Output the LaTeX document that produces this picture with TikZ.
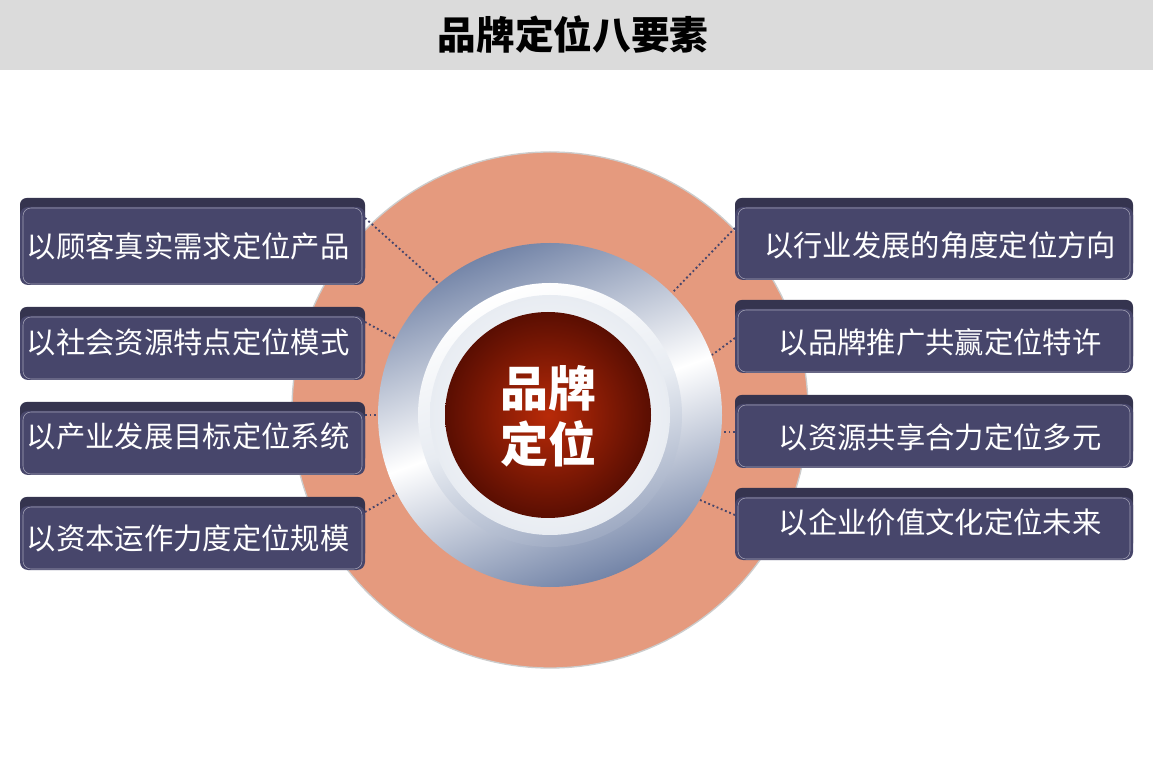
\documentclass[tikz,border=0pt]{standalone}
\usepackage{fontspec}
\newfontfamily\cjk{Noto Sans CJK SC}
\usetikzlibrary{shadings}
\definecolor{boxc}{HTML}{47466B}
\definecolor{boxtop}{HTML}{35344F}
\definecolor{orng}{HTML}{E59A7E}
\definecolor{steel}{HTML}{7485A8}
\definecolor{silv}{HTML}{E8ECF2}
\definecolor{redc}{HTML}{B82A08}
\definecolor{redd}{HTML}{5A0E02}
\tikzset{
 lbl/.style={font=\cjk\fontsize{22}{26}\selectfont, text=white, anchor=center},
 dots/.style={dotted, line width=1.4pt, color=boxc},
}
\newcommand{\pbox}[5]{% name, x1,y1,x2,y2
 \fill[boxtop, rounded corners=5pt] (#2,#3) rectangle (#4,#5-10);
 \fill[boxc, rounded corners=6pt] (#2,#3+9) rectangle (#4,#5);
 \draw[white!50!boxc, rounded corners=6pt, line width=0.4pt] (#2+3,#3+10) rectangle (#4-3,#5-1);
 \coordinate (#1) at ({(#2+#4)/2},{(#3+#5)/2+4});
}
\begin{document}
\begin{tikzpicture}[x=0.75pt,y=-0.75pt]
\useasboundingbox (0,0) rectangle (1153,762);
\fill[white] (0,0) rectangle (1153,762);
\fill[gray!28] (0,0) rectangle (1153,70);
\node[font=\cjk\bfseries\fontsize{29}{33}\selectfont] (title) at (573,35) {品牌定位八要素};
\fill[orng, draw=gray!40, line width=1pt] (550,410) circle (258);
% connectors
\coordinate (l1) at (440,285); \coordinate (l2) at (398,340);
\coordinate (l3) at (380,415); \coordinate (l4) at (400,492);
\coordinate (r1) at (672,293); \coordinate (r2) at (712,355);
\coordinate (r3) at (722,432); \coordinate (r4) at (700,500);
\coordinate (L1) at (365,218); \coordinate (L2) at (365,322);
\coordinate (L3) at (365,415); \coordinate (L4) at (365,512);
\coordinate (R1) at (735,228); \coordinate (R2) at (735,338);
\coordinate (R3) at (735,432); \coordinate (R4) at (735,515);
\foreach \i in {1,2,3,4}{\draw[dots] (L\i) -- (l\i); \draw[dots] (R\i) -- (r\i);}
% rings
\shade[left color=steel, right color=steel, middle color=white, shading angle=20] (550,415) circle (172);
\shade[left color=white, right color=steel!70, middle color=silv, shading angle=20] (550,415) circle (132);
\shade[inner color=white, outer color=silv] (550,415) circle (120);
\shade[inner color=redc, outer color=redd] (548,415) circle (103);
\node[font=\cjk\bfseries\fontsize{36}{42}\selectfont, text=white, align=center] (core) at (548,416) {品牌\\定位};
% boxes
\pbox{b1}{20}{198}{365}{285}
\pbox{b2}{20}{307}{365}{380}
\pbox{b3}{20}{402}{365}{475}
\pbox{b4}{20}{497}{365}{570}
\pbox{b5}{735}{198}{1133}{280}
\pbox{b6}{735}{300}{1133}{373}
\pbox{b7}{735}{395}{1133}{468}
\pbox{b8}{735}{488}{1133}{560}
\node[lbl] (t1) at (188,246) {以顾客真实需求定位产品};
\node[lbl] (t2) at (188,342) {以社会资源特点定位模式};
\node[lbl] (t3) at (188,436) {以产业发展目标定位系统};
\node[lbl] (t4) at (188,538) {以资本运作力度定位规模};
\node[lbl] (t5) at (940,245) {以行业发展的角度定位方向};
\node[lbl] (t6) at (940,342) {以品牌推广共赢定位特许};
\node[lbl] (t7) at (940,437) {以资源共享合力定位多元};
\node[lbl] (t8) at (940,522) {以企业价值文化定位未来};
\end{tikzpicture}
\end{document}
